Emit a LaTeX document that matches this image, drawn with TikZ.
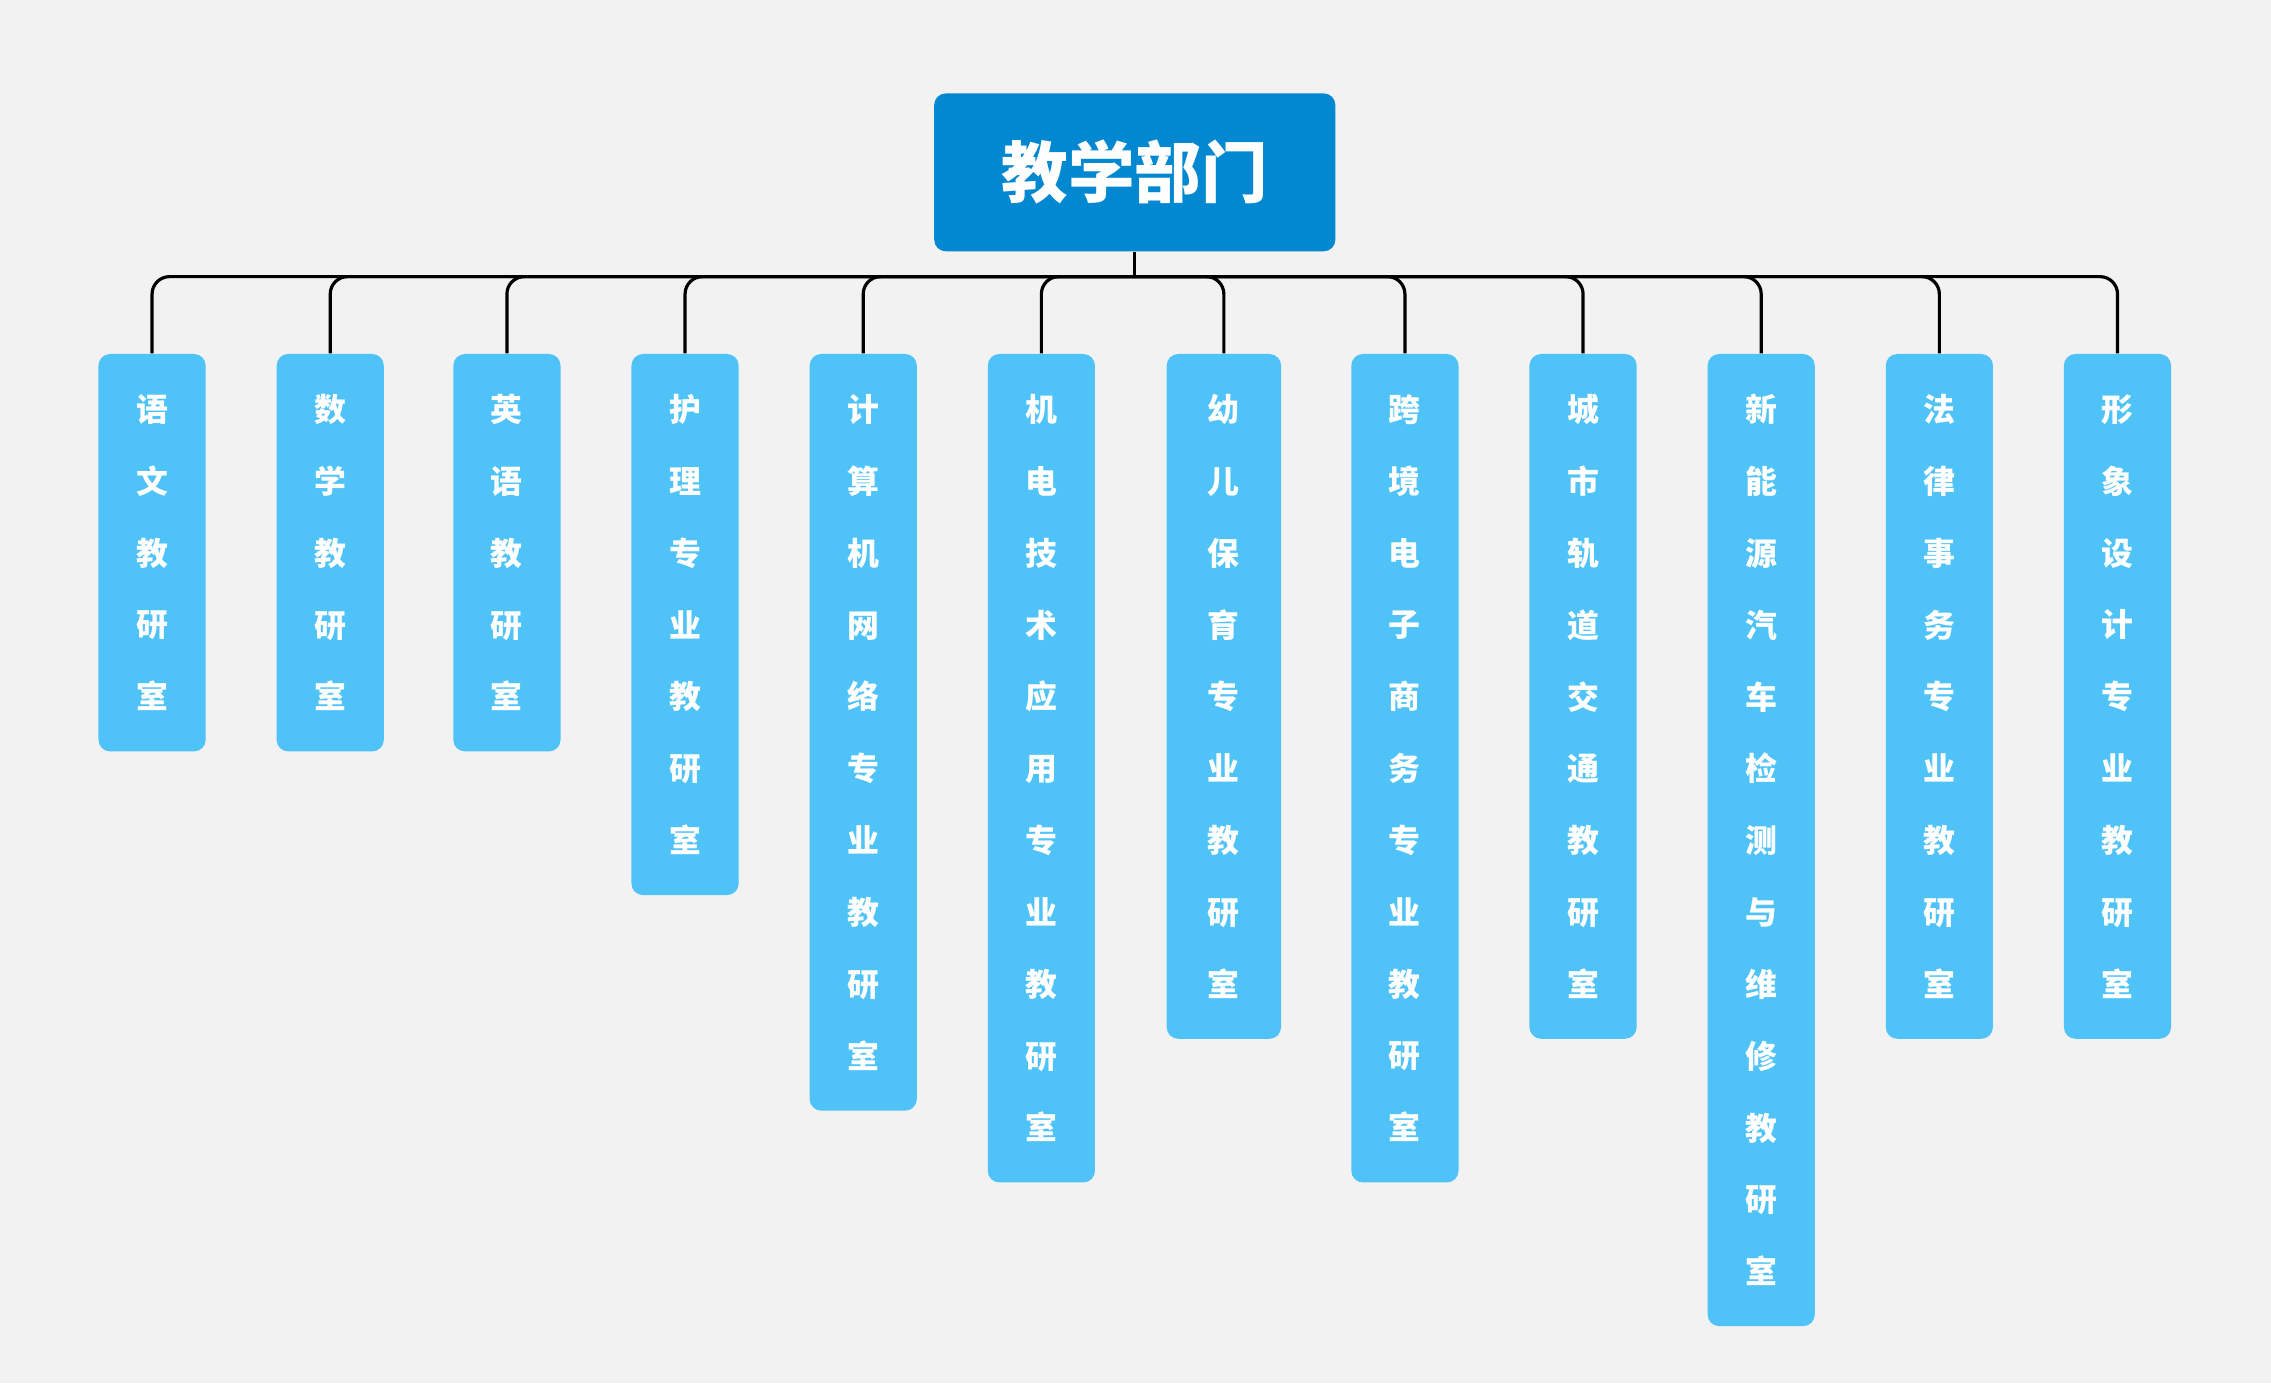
\documentclass[tikz,border=0pt]{standalone}
\usepackage{fontspec}
\newfontfamily\cjk{Noto Sans CJK SC}
\definecolor{bg}{HTML}{F2F2F2}
\definecolor{rootc}{HTML}{0288D1}
\definecolor{childc}{HTML}{4FC3F7}
\tikzset{
  rootbox/.style={fill=rootc, rounded corners=4pt, text=white, font=\cjk\bfseries\fontsize{23}{26}\selectfont, minimum width=138.5pt, minimum height=54.5pt, inner sep=0pt},
  childbox/.style={fill=childc, rounded corners=4pt, text=white, font=\cjk\bfseries\fontsize{11}{24.8}\selectfont, align=center, minimum width=37pt, inner sep=0pt, anchor=north},
  conn/.style={line width=1.1pt, black, rounded corners=6pt}
}
\begin{document}
\begin{tikzpicture}[x=0.5pt,y=-0.5pt]
\fill[bg] (0,0) rectangle (1568,955);
\useasboundingbox (0,0) rectangle (1568,955);
\node[rootbox] (root) at (783.5,119) {教学部门};
\foreach \i/\x/\w/\n/\t in {
 1/105/74/5/{语\\文\\教\\研\\室},
 2/228/74/5/{数\\学\\教\\研\\室},
 3/350/74/5/{英\\语\\教\\研\\室},
 4/473/74/7/{护\\理\\专\\业\\教\\研\\室},
 5/596/74/10/{计\\算\\机\\网\\络\\专\\业\\教\\研\\室},
 6/719/74/11/{机\\电\\技\\术\\应\\用\\专\\业\\教\\研\\室},
 7/845/79/9/{幼\\儿\\保\\育\\专\\业\\教\\研\\室},
 8/970/74/11/{跨\\境\\电\\子\\商\\务\\专\\业\\教\\研\\室},
 9/1093/74/9/{城\\市\\轨\\道\\交\\通\\教\\研\\室},
 10/1216/74/13/{新\\能\\源\\汽\\车\\检\\测\\与\\维\\修\\教\\研\\室},
 11/1339/74/9/{法\\律\\事\\务\\专\\业\\教\\研\\室},
 12/1462/74/9/{形\\象\\设\\计\\专\\业\\教\\研\\室}}{
  \pgfmathsetmacro{\hh}{(76+49.6*(\n-1))*0.5}
  \node[childbox, minimum width=\w*0.5pt, minimum height=\hh pt] (c\i) at (\x,244) {\t};
  \draw[conn] (c\i.north) |- (783.5,191);
}
\draw[conn] (root.south) -- (783.5,191);
\end{tikzpicture}
\end{document}
